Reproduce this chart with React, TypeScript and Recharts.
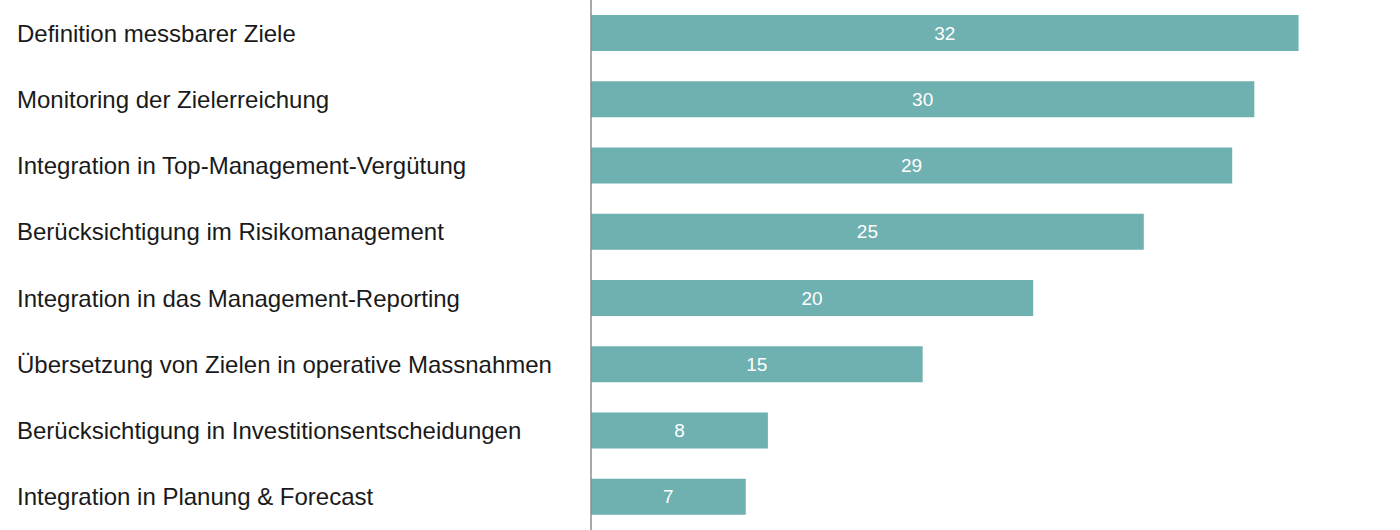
import { BarChart, Bar, XAxis, YAxis, LabelList } from 'recharts'

const categories = [
  'Definition messbarer Ziele',
  'Monitoring der Zielerreichung',
  'Integration in Top-Management-Vergütung',
  'Berücksichtigung im Risikomanagement',
  'Integration in das Management-Reporting',
  'Übersetzung von Zielen in operative Massnahmen',
  'Berücksichtigung in Investitionsentscheidungen',
  'Integration in Planung & Forecast',
];

const values = [32, 30, 29, 25, 20, 15, 8, 7];

const data = categories.map((name, i) => ({ name, value: values[i] }));

function CategoryTick({ y, payload }: any) {
  return (
    <text x={17} y={y} dy={8.5} textAnchor="start" fill="#1a1a1a" fontSize={24}
      fontFamily="'Liberation Sans', Arial, sans-serif">
      {payload.value}
    </text>
  );
}

export default function App() {
  return (
    <div style={{ position: 'absolute', left: 0, top: 0, background: '#fff' }}>
      <BarChart
        width={1400}
        height={530}
        data={data}
        layout="vertical"
        margin={{ top: 0, right: 13, left: 0, bottom: 0 }}
        barCategoryGap={0}
      >
        <XAxis type="number" domain={[0, 36]} hide />
        <YAxis
          type="category"
          dataKey="name"
          width={591}
          axisLine={{ stroke: '#8c8c8c', strokeWidth: 1.5 }}
          tickLine={false}
          tick={<CategoryTick />}
          interval={0}
        />
        <Bar dataKey="value" fill="#6fb0b1" barSize={36} isAnimationActive={false}>
          <LabelList dataKey="value" position="center" fill="#ffffff" fontSize={19}
            fontFamily="'Liberation Sans', Arial, sans-serif" />
        </Bar>
      </BarChart>
    </div>
  );
}
